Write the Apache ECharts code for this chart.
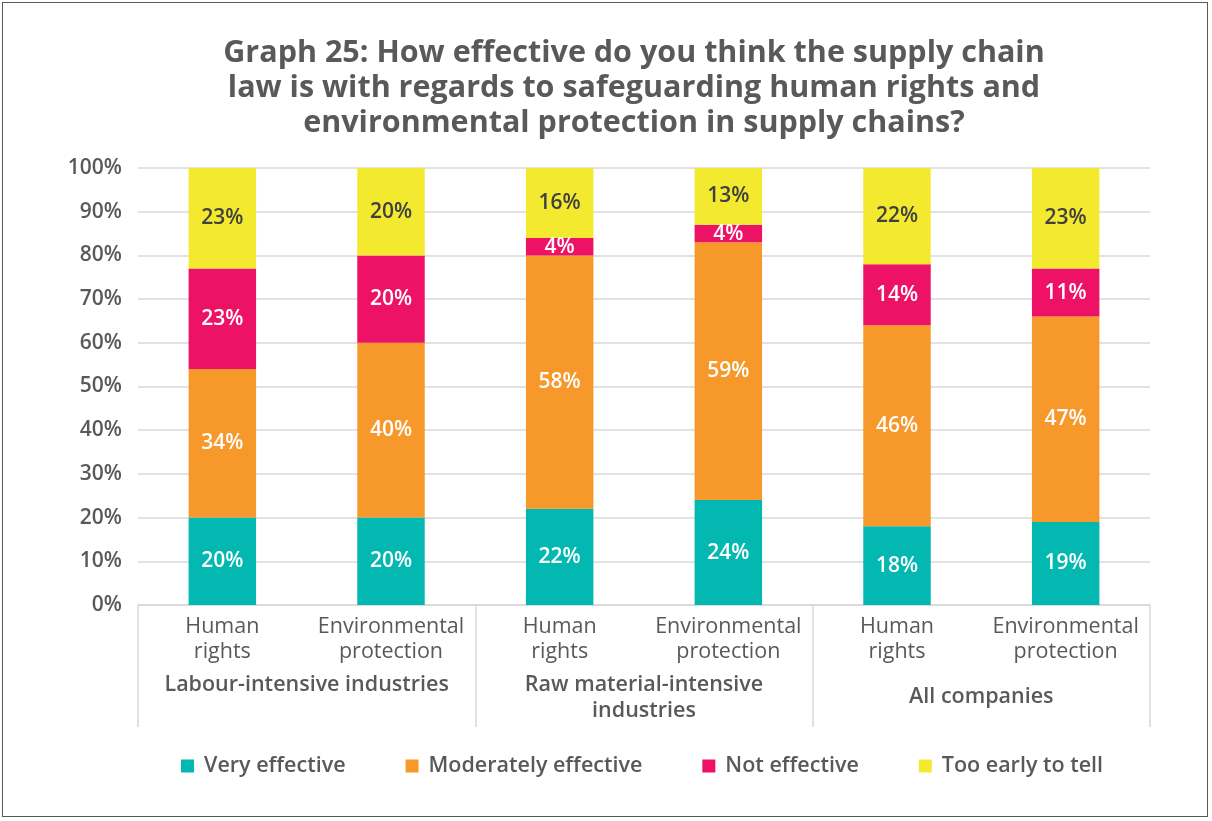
<!DOCTYPE html>
<html>
<head>
<meta charset="utf-8">
<script src="https://cdn.jsdelivr.net/npm/echarts@6/dist/echarts.min.js"></script>
<style>
  html, body { margin: 0; padding: 0; background: #fff; }
  #frame {
    position: absolute; left: 2px; top: 2px;
    width: 1206px; height: 815px;
    border: 1.5px solid #595959; box-sizing: border-box;
  }
  #chart { position: absolute; left: 0; top: 0; width: 1212px; height: 821px; }
</style>
</head>
<body>
<div id="frame"></div>
<div id="chart"></div>
<script>
// categories
const subCategories = ['Human\nrights', 'Environmental\nprotection', 'Human\nrights', 'Environmental\nprotection', 'Human\nrights', 'Environmental\nprotection']
const groupCategories = ['Labour-intensive industries', 'Raw material-intensive\nindustries', 'All companies']
const yTicks = [0, 10, 20, 30, 40, 50, 60, 70, 80, 90, 100]

// series values (%)
const veryEffective = [20, 20, 22, 24, 18, 19]
const moderatelyEffective = [34, 40, 58, 59, 46, 47]
const notEffective = [23, 20, 4, 4, 14, 11]
const tooEarly = [23, 20, 16, 13, 22, 23]

const seriesNames = ['Very effective', 'Moderately effective', 'Not effective', 'Too early to tell']
const colors = ['#02b8b1', '#f7982a', '#ed1266', '#f3ea2f']

const chart = echarts.init(document.getElementById('chart'))

const font = "'Open Sans', 'Noto Sans', sans-serif"
const gray = '#595959'

const makeSeries = (name, data, color, labelColor) => ({
  name: name,
  type: 'bar',
  stack: 'total',
  barWidth: '40%',
  xAxisIndex: 0,
  data: data,
  itemStyle: { color: color },
  label: {
    show: true,
    position: 'inside',
    formatter: '{c}%',
    color: labelColor,
    fontFamily: font,
    fontSize: 21,
    fontWeight: 600
  }
})

const option = {
  animation: false,
  color: colors,
  title: {
    text: 'Graph 25: How effective do you think the supply chain\nlaw is with regards to safeguarding human rights and\nenvironmental protection in supply chains?',
    left: 629,
    top: 31,
    textAlign: 'center',
    textStyle: {
      fontFamily: font,
      fontSize: 30.5,
      fontWeight: 'bold',
      color: gray,
      lineHeight: 35
    }
  },
  legend: {
    data: seriesNames,
    bottom: 39,
    left: 176,
    itemWidth: 13,
    itemHeight: 13,
    itemGap: 60,
    icon: 'rect',
    textStyle: {
      fontFamily: font,
      fontSize: 21.5,
      fontWeight: 600,
      color: gray,
      padding: [0, 0, 0, 5]
    }
  },
  grid: {
    left: 138,
    right: 62,
    top: 168,
    bottom: 216
  },
  xAxis: [
    {
      type: 'category',
      data: subCategories,
      axisLine: { show: true, lineStyle: { color: '#d9d9d9', width: 1.5 } },
      axisTick: { show: false },
      axisLabel: {
        interval: 0,
        margin: 9,
        fontFamily: font,
        fontSize: 21.5,
        lineHeight: 25,
        color: gray
      }
    },
    {
      type: 'category',
      position: 'bottom',
      data: groupCategories.map((g, i) => i === 2 ? { value: g, textStyle: { padding: [12, 0, 0, 0] } } : g),
      axisLine: { show: false },
      axisTick: { show: true, interval: 0, length: 122, lineStyle: { color: '#d9d9d9', width: 1.5 } },
      axisLabel: {
        interval: 0,
        margin: 67,
        fontFamily: font,
        fontSize: 21.5,
        fontWeight: 600,
        lineHeight: 26,
        color: gray
      }
    }
  ],
  yAxis: {
    type: 'value',
    min: yTicks[0],
    max: yTicks[yTicks.length - 1],
    interval: 10,
    axisLine: { show: false },
    axisTick: { show: false },
    splitLine: { lineStyle: { color: '#d9d9d9', width: 1.5 } },
    axisLabel: {
      formatter: '{value}%',
      margin: 16,
      fontFamily: font,
      fontSize: 21,
      fontWeight: 600,
      color: gray
    }
  },
  series: [
    makeSeries(seriesNames[0], veryEffective, colors[0], '#ffffff'),
    makeSeries(seriesNames[1], moderatelyEffective, colors[1], '#ffffff'),
    makeSeries(seriesNames[2], notEffective, colors[2], '#ffffff'),
    makeSeries(seriesNames[3], tooEarly, colors[3], '#404040')
  ]
}

chart.setOption(option)
</script>
</body>
</html>
